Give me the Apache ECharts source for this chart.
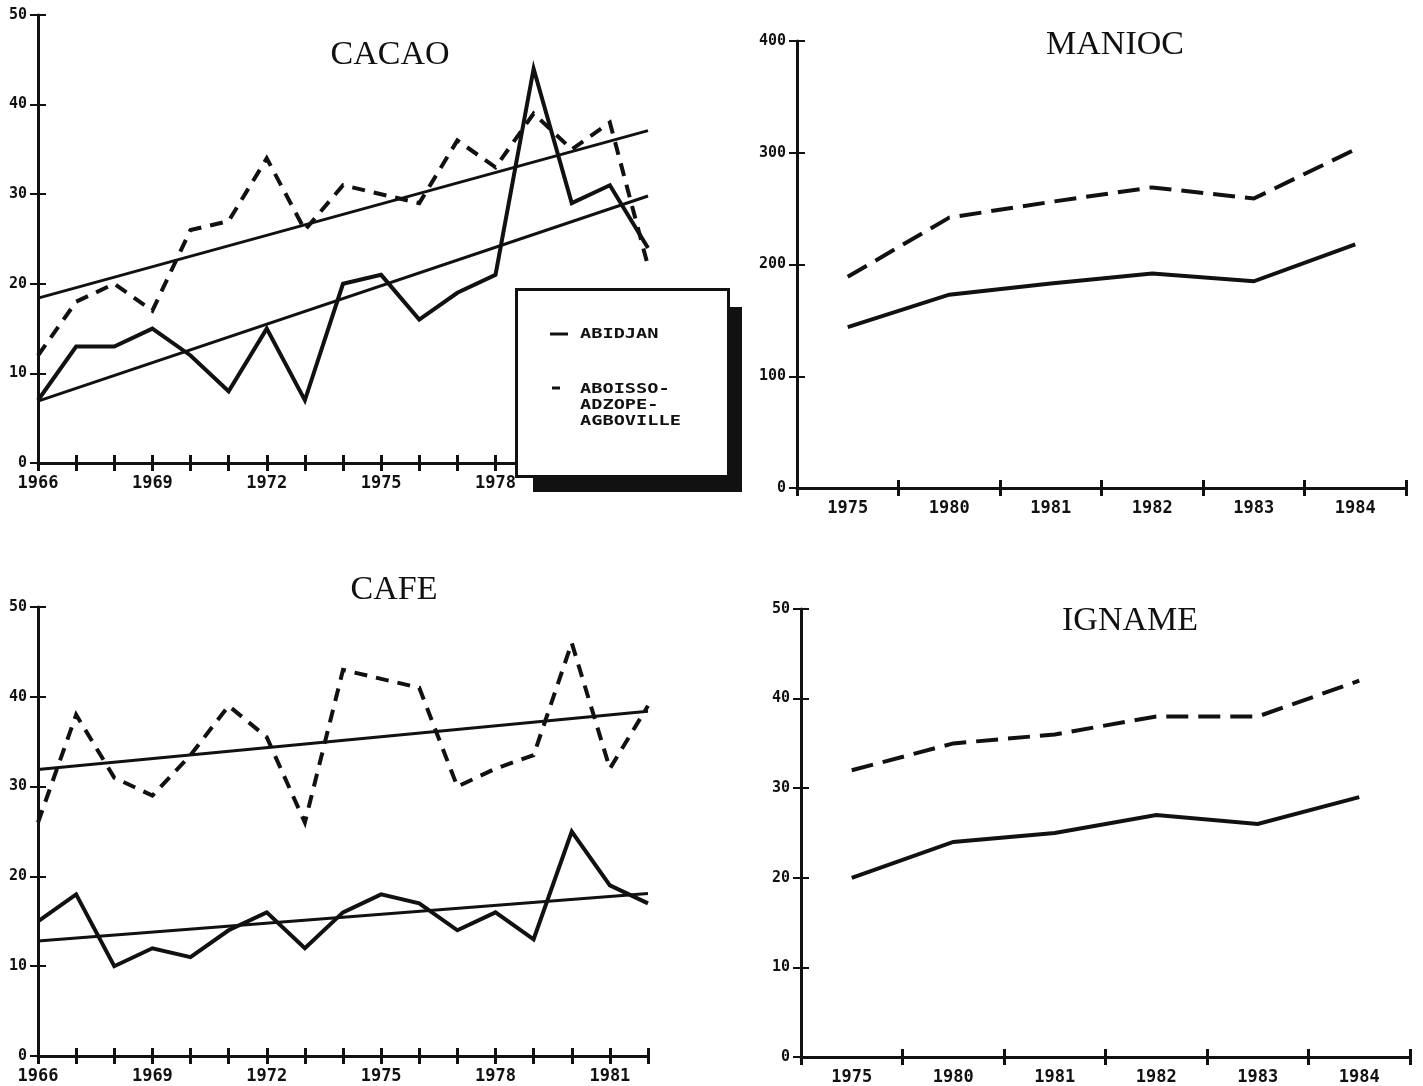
<!DOCTYPE html>
<html>
<head>
<meta charset="utf-8">
<script src="https://cdn.jsdelivr.net/npm/echarts@6/dist/echarts.min.js"></script>
<style>
html,body{margin:0;padding:0;background:#fff;}
#c{width:1423px;height:1086px;}
</style>
</head>
<body>
<div id="c"></div>
<script>
// ---- data ----
const years = [1966,1967,1968,1969,1970,1971,1972,1973,1974,1975,1976,1977,1978,1979,1980,1981,1982];
const cacaoAbidjan = [7,13,13,15,12,8,15,7,20,21,16,19,21,44,29,31,24];
const cacaoAboisso = [12,18,20,17,26,27,34,26,31,30,29,36,33,39,35,38,22];
const trendYears = [1966,1982];
const cacaoTrendAbidjan = [6.9,29.8];
const cacaoTrendAboisso = [18.4,37.1];
const cafeAbidjan = [15,18,10,12,11,14,16,12,16,18,17,14,16,13,25,19,17];
const cafeAboisso = [26,38,31,29,33.5,39,35.5,26,43,42,41,30,32,33.5,46,32,39];
const cafeTrendAbidjan = [12.8,18.1];
const cafeTrendAboisso = [31.9,38.4];
const cropYears = ['1975','1980','1981','1982','1983','1984'];
const maniocAbidjan = [144,173,183,192,185,218];
const maniocAboisso = [189,242,256,269,259,303];
const ignameAbidjan = [20,24,25,27,26,29];
const ignameAboisso = [32,35,36,38,38,42];
const titles = ['CACAO','MANIOC','CAFE','IGNAME'];
const legendNames = ['ABIDJAN','ABOISSO-','ADZOPE-','AGBOVILLE'];

// ---- styling ----
const INK = '#111';
const monoFont = 'DejaVu Sans Mono';
const grids = [
  {left:38, top:15, width:610, height:448},
  {left:797, top:41, width:609, height:447},
  {left:38, top:607, width:610, height:449},
  {left:801, top:609, width:609, height:448}
];
const yMax = [50,400,50,50];
const yInt = [10,100,10,10];

function pairs(xs, vs){ return xs.map((x,i)=>[x, vs[i]]); }

const xAxes = [], yAxes = [];
grids.forEach((g, gi) => {
  const isYear = (gi === 0 || gi === 2);
  const base = isYear
    ? {type:'value', min:1966, max:1982, interval:1}
    : {type:'category', data:cropYears, boundaryGap:true};
  // primary x axis: line, outer ticks, labels
  xAxes.push(Object.assign({}, base, {
    gridIndex: gi, position:'bottom', offset:0,
    axisLine:{show:true, onZero:false, lineStyle:{color:INK, width:3}},
    axisTick:{show:true, inside:false, length:8, lineStyle:{color:INK, width:3}},
    splitLine:{show:false},
    axisLabel:{
      show:true, margin:12, color:INK, fontFamily:monoFont, fontWeight:'bold', fontSize:17,
      formatter: isYear ? (v => ((v-1966)%3===0 ? String(v) : '')) : (v => v),
      showMinLabel:true, showMaxLabel:true
    }
  }));
  // duplicate x axis: inner ticks only
  xAxes.push(Object.assign({}, base, {
    gridIndex: gi, position:'bottom', offset:0,
    axisLine:{show:false, onZero:false},
    axisTick:{show:true, inside:true, length:8, lineStyle:{color:INK, width:3}},
    splitLine:{show:false},
    axisLabel:{show:false}
  }));
  const ybase = {type:'value', min:0, max:yMax[gi], interval:yInt[gi]};
  yAxes.push(Object.assign({}, ybase, {
    gridIndex: gi, position:'left', offset:0,
    axisLine:{show:true, onZero:false, lineStyle:{color:INK, width:3}},
    axisTick:{show:true, inside:false, length:8, lineStyle:{color:INK, width:2}},
    splitLine:{show:false},
    axisLabel:{show:true, margin:11, color:INK, fontFamily:monoFont, fontWeight:'bold', fontSize:15}
  }));
  yAxes.push(Object.assign({}, ybase, {
    gridIndex: gi, position:'left', offset:0,
    axisLine:{show:false, onZero:false},
    axisTick:{show:true, inside:true, length:8, lineStyle:{color:INK, width:2}},
    splitLine:{show:false},
    axisLabel:{show:false}
  }));
});

function lineSeries(gi, data, type, width){
  return {
    type:'line', xAxisIndex: gi*2, yAxisIndex: gi*2, data: data,
    symbol:'none', silent:true,
    lineStyle:{color:INK, width:width, type:type, cap:'butt', join:'miter'}
  };
}
const dashShort = [13,9];
const dashLong = [22,10];

const series = [
  // CACAO
  lineSeries(0, pairs(years, cacaoAbidjan), 'solid', 4),
  lineSeries(0, pairs(years, cacaoAboisso), dashShort, 4),
  lineSeries(0, pairs(trendYears, cacaoTrendAbidjan), 'solid', 3),
  lineSeries(0, pairs(trendYears, cacaoTrendAboisso), 'solid', 3),
  // MANIOC
  lineSeries(1, maniocAbidjan, 'solid', 4),
  lineSeries(1, maniocAboisso, dashLong, 4),
  // CAFE
  lineSeries(2, pairs(years, cafeAbidjan), 'solid', 4),
  lineSeries(2, pairs(years, cafeAboisso), dashShort, 4),
  lineSeries(2, pairs(trendYears, cafeTrendAbidjan), 'solid', 3),
  lineSeries(2, pairs(trendYears, cafeTrendAboisso), 'solid', 3),
  // IGNAME
  lineSeries(3, ignameAbidjan, 'solid', 4),
  lineSeries(3, ignameAboisso, dashLong, 4)
];

const titlePos = [[390,55],[1115,45],[394,590],[1130,621]];
const graphic = [];
titles.forEach((t,i) => {
  graphic.push({
    type:'text', x:titlePos[i][0], y:titlePos[i][1], z:50,
    style:{text:t, fill:INK, font:'34px "Liberation Serif", "Times New Roman", serif',
           textAlign:'center', textVerticalAlign:'middle'}
  });
});
// legend box with hard drop shadow
graphic.push({type:'rect', z:60, shape:{x:533, y:307, width:209, height:185}, style:{fill:INK}});
graphic.push({type:'rect', z:61, shape:{x:516.5, y:289.5, width:212, height:187},
              style:{fill:'#fff', stroke:INK, lineWidth:3}});
graphic.push({type:'line', z:62, shape:{x1:550, y1:334, x2:568, y2:334}, style:{stroke:INK, lineWidth:3}});
graphic.push({type:'line', z:62, shape:{x1:552, y1:388, x2:560, y2:388}, style:{stroke:INK, lineWidth:3}});
const legendY = [334, 389, 405, 421];
legendNames.forEach((n,i) => {
  graphic.push({
    type:'text', z:63, x:580, y:legendY[i], scaleX:1.33,
    style:{text:n, fill:INK, font:'bold 14px "DejaVu Sans Mono", monospace',
           textAlign:'left', textVerticalAlign:'middle'}
  });
});

const chart = echarts.init(document.getElementById('c'), null, {renderer:'canvas'});
chart.setOption({
  animation:false,
  backgroundColor:'#fff',
  grid: grids.map(g => Object.assign({containLabel:false}, g)),
  xAxis: xAxes,
  yAxis: yAxes,
  series: series,
  graphic: graphic
});
</script>
</body>
</html>
